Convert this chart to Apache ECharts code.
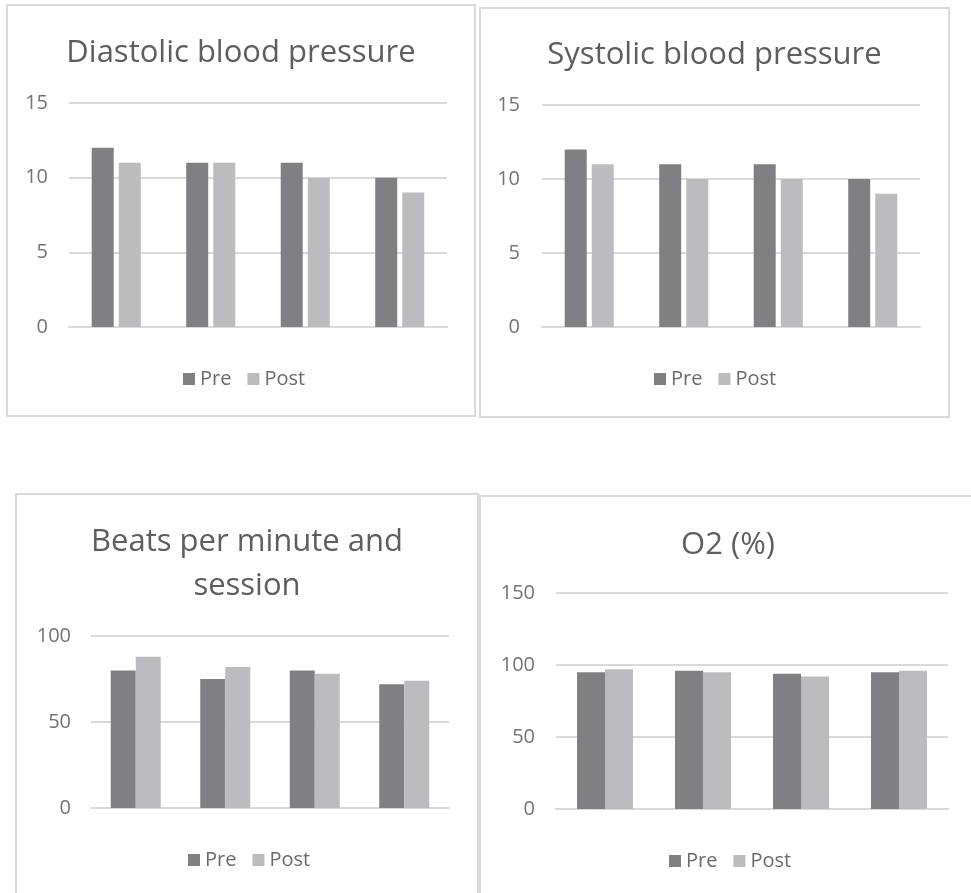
<!DOCTYPE html>
<html>
<head>
<meta charset="utf-8">
<script src="https://cdn.jsdelivr.net/npm/echarts@6/dist/echarts.min.js"></script>
<style>
  html, body { margin: 0; padding: 0; background: #fff; }
  body { width: 971px; height: 893px; position: relative; overflow: hidden; }
  .panel { position: absolute; box-sizing: border-box; border: 2px solid #dadada; }
  .chart { position: absolute; left: 0; top: 0; width: 100%; height: 100%; }
</style>
</head>
<body>
<div class="panel" style="left:6px;top:4px;width:470px;height:413px"><div class="chart" id="diaCharts"></div></div>
<div class="panel" style="left:479px;top:7px;width:471px;height:411px"><div class="chart" id="sysCharts"></div></div>
<div class="panel" style="left:15px;top:493px;width:464px;height:420px"><div class="chart" id="bpmCharts"></div></div>
<div class="panel" style="left:479px;top:495px;width:498px;height:420px"><div class="chart" id="o2Charts"></div></div>

<script>
// sessions (x axis labels are hidden in the original)
var sessions = ["1", "2", "3", "4"];
var seriesNames = ["Pre", "Post"];

// Diastolic blood pressure
var diaPre = [12, 11, 11, 10];
var diaPost = [11, 11, 10, 9];
var diaTicks = [0, 5, 10, 15];

// Systolic blood pressure
var sysPre = [12, 11, 11, 10];
var sysPost = [11, 10, 10, 9];
var sysTicks = [0, 5, 10, 15];

// Beats per minute and session
var bpmPre = [80, 75, 80, 72];
var bpmPost = [88, 82, 78, 74];
var bpmTicks = [0, 50, 100];

// O2 (%)
var o2Pre = [95, 96, 94, 95];
var o2Post = [97, 95, 92, 96];
var o2Ticks = [0, 50, 100, 150];

var fontFamily = "'Open Sans', 'Noto Sans', sans-serif";
var preColor = "#7f8084";
var postColor = "#bbbcbf";
var gridColor = "#d9d9d9";

function drawPanel(id, cfg) {
  var chart = echarts.init(document.getElementById(id));
  var ticks = cfg.ticks;
  var option = {
    animation: false,
    textStyle: { fontFamily: fontFamily },
    title: {
      text: cfg.title,
      left: "center",
      top: cfg.titleTop,
      padding: 0,
      textStyle: {
        color: "#5e5e5e",
        fontSize: 31,
        fontWeight: "normal",
        fontFamily: fontFamily,
        lineHeight: 44,
      },
    },
    legend: {
      data: seriesNames,
      left: cfg.legendLeft,
      top: cfg.legendTop,
      padding: 0,
      icon: "rect",
      itemWidth: 12,
      itemHeight: 12,
      itemGap: 16,
      textStyle: { color: "#6b6b6b", fontSize: 20, fontFamily: fontFamily },
    },
    grid: {
      left: cfg.grid[0],
      top: cfg.grid[1],
      width: cfg.grid[2],
      height: cfg.grid[3],
      containLabel: false,
    },
    xAxis: {
      type: "category",
      data: sessions,
      axisLine: { show: true, lineStyle: { color: gridColor, width: 2 } },
      axisTick: { show: false },
      axisLabel: { show: false },
    },
    yAxis: {
      type: "value",
      min: ticks[0],
      max: ticks[ticks.length - 1],
      interval: ticks[1] - ticks[0],
      axisLine: { show: false },
      axisTick: { show: false },
      axisLabel: { color: "#737373", fontSize: 20, margin: cfg.labelMargin, fontFamily: fontFamily },
      splitLine: { show: true, lineStyle: { color: gridColor, width: 2 } },
    },
    series: [
      {
        name: "Pre",
        type: "bar",
        barWidth: cfg.barWidth,
        barGap: cfg.barGap,
        itemStyle: { color: preColor },
        data: cfg.pre,
      },
      {
        name: "Post",
        type: "bar",
        barWidth: cfg.barWidth,
        barGap: cfg.barGap,
        itemStyle: { color: postColor },
        data: cfg.post,
      },
    ],
  };
  chart.setOption(option);
}

drawPanel("diaCharts", {
  title: "Diastolic blood pressure",
  titleTop: 25,
  legendLeft: 175,
  legendTop: 363,
  grid: [61, 97, 378, 224],
  labelMargin: 21,
  barWidth: 22,
  barGap: "23%",
  ticks: diaTicks,
  pre: diaPre,
  post: diaPost,
});

drawPanel("sysCharts", {
  title: "Systolic blood pressure",
  titleTop: 24,
  legendLeft: 173,
  legendTop: 360,
  grid: [61, 96, 378, 222],
  labelMargin: 22,
  barWidth: 22,
  barGap: "23%",
  ticks: sysTicks,
  pre: sysPre,
  post: sysPost,
});

drawPanel("bpmCharts", {
  title: "Beats per minute and\nsession",
  titleTop: 25,
  legendLeft: 171,
  legendTop: 355,
  grid: [74, 141, 358, 172],
  labelMargin: 20,
  barWidth: 25,
  barGap: "0%",
  ticks: bpmTicks,
  pre: bpmPre,
  post: bpmPost,
});

drawPanel("o2Charts", {
  title: "O2 (%)",
  titleTop: 26,
  legendLeft: 188,
  legendTop: 354,
  grid: [75, 96, 392, 216],
  labelMargin: 21,
  barWidth: 28,
  barGap: "0%",
  ticks: o2Ticks,
  pre: o2Pre,
  post: o2Post,
});
</script>
</body>
</html>
